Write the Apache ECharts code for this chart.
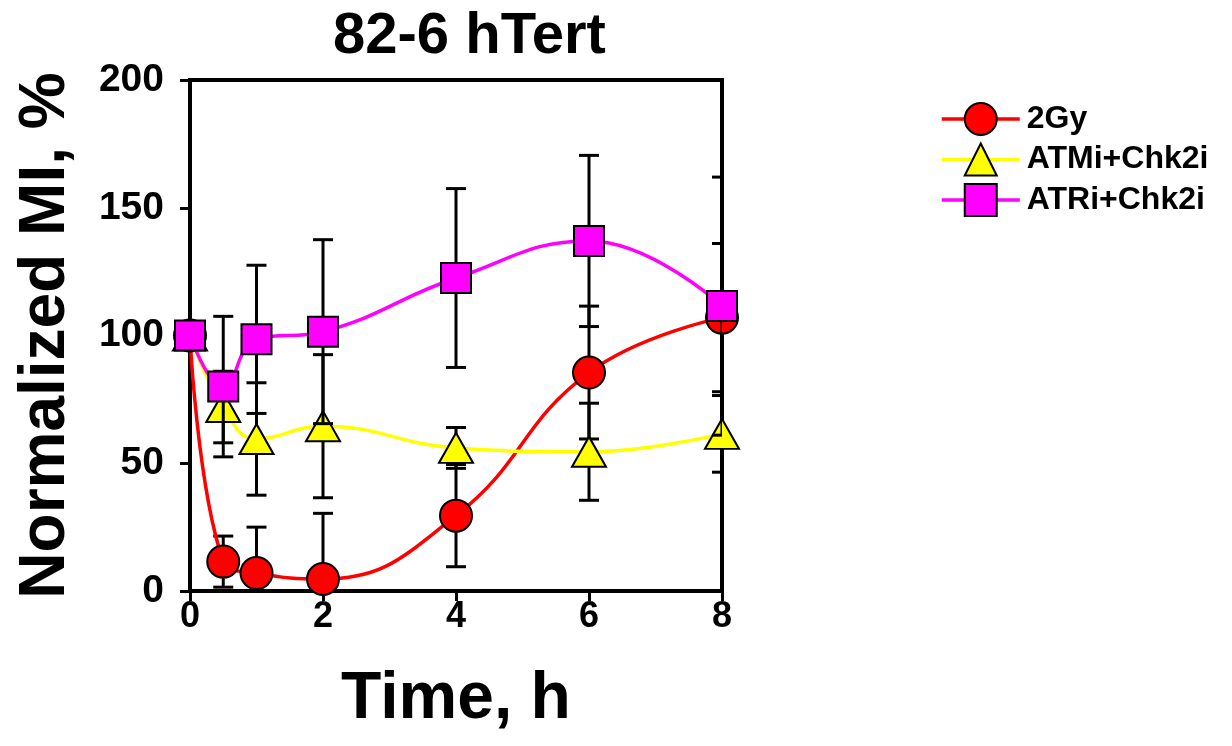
<!DOCTYPE html>
<html>
<head>
<meta charset="utf-8">
<script src="https://cdn.jsdelivr.net/npm/echarts@6/dist/echarts.min.js"></script>
<style>
html,body{margin:0;padding:0;background:#fff;}
#chart{width:1232px;height:746px;}
</style>
</head>
<body>
<div id="chart"></div>
<script>
const times = [0, 0.5, 1, 2, 4, 6, 8];
const seriesNames = ['2Gy', 'ATMi+Chk2i', 'ATRi+Chk2i'];
const gy2 = [100, 11.5, 7, 4.7, 29.5, 85.5, 107];
const gy2Err = [0, 10, 18, 25.7, 20, 26, 29];
const atmi = [100, 72, 59.5, 64.5, 56, 54.5, 61.5];
const atmiErr = [0, 14, 22, 28, 8, 19, 15];
const atri = [100, 80, 98.5, 101.5, 122.5, 137, 111.5];
const atriErr = [0, 27.5, 29, 36, 35, 33.5, 50.5];
const yTicks = [0, 50, 100, 150, 200];
const xTicks = [0, 2, 4, 6, 8];

const FONT = '"Liberation Sans", Arial, sans-serif';
const colors = ['#ff0000', '#ffff00', '#ff00ff'];
const symbols = ['circle', 'triangle', 'rect'];
const symbolSizes = [32, [34, 30], 30];
const values = [gy2, atmi, atri];
const errors = [gy2Err, atmiErr, atriErr];

function errRender(params, api) {
  const x = api.value(0), lo = api.value(1), hi = api.value(2);
  const top = api.coord([x, hi]);
  const bot = api.coord([x, Math.max(lo, 0)]);
  const half = 10;
  const style = {stroke: '#000', lineWidth: 3};
  const children = [
    {type: 'line', shape: {x1: top[0], y1: top[1], x2: bot[0], y2: bot[1]}, style: style},
    {type: 'line', shape: {x1: top[0] - half, y1: top[1], x2: top[0] + half, y2: top[1]}, style: style}
  ];
  if (lo >= 0) {
    children.push({type: 'line', shape: {x1: bot[0] - half, y1: bot[1], x2: bot[0] + half, y2: bot[1]}, style: style});
  }
  return {type: 'group', children: children};
}

const series = [];
for (let i = 0; i < 3; i++) {
  const errData = [];
  for (let j = 0; j < times.length; j++) {
    if (errors[i][j] > 0) errData.push([times[j], values[i][j] - errors[i][j], values[i][j] + errors[i][j]]);
  }
  series.push({
    type: 'custom',
    name: seriesNames[i] + ' err',
    renderItem: errRender,
    data: errData,
    z: 1 + i * 2,
    silent: true,
    clip: true,
    encode: {x: 0, y: [1, 2]}
  });
  series.push({
    type: 'line',
    name: seriesNames[i],
    data: times.map((t, j) => [t, values[i][j]]),
    smooth: 0.45,
    symbol: symbols[i],
    symbolSize: symbolSizes[i],
    z: 2 + i * 2,
    lineStyle: {color: colors[i], width: 3.5},
    itemStyle: {color: colors[i], borderColor: '#000', borderWidth: 2},
    emphasis: {disabled: true}
  });
}

const chart = echarts.init(document.getElementById('chart'), null, {renderer: 'canvas'});
chart.setOption({
  animation: false,
  backgroundColor: '#fff',
  title: {
    text: '82-6 hTert',
    left: 328, top: 3,
    textStyle: {fontFamily: FONT, fontWeight: 'bold', fontSize: 58, color: '#000'}
  },
  legend: {
    orient: 'vertical',
    left: 935, top: 97,
    itemWidth: 78, itemHeight: 40, itemGap: 6.5,
    data: seriesNames,
    lineStyle: {width: 3.5},
    itemStyle: {borderColor: '#000', borderWidth: 2},
    textStyle: {fontFamily: FONT, fontWeight: 'bold', fontSize: 32, color: '#000', padding: [0, 0, 0, 2]}
  },
  grid: {
    left: 190, right: 510, top: 80, bottom: 155,
    show: true, borderColor: '#000', borderWidth: 4, backgroundColor: 'transparent'
  },
  xAxis: {
    type: 'value', min: 0, max: 8, interval: 2,
    name: 'Time, h', nameLocation: 'middle', nameGap: 76,
    nameTextStyle: {fontFamily: FONT, fontWeight: 'bold', fontSize: 66, color: '#000'},
    axisLine: {lineStyle: {color: '#000', width: 4}},
    axisTick: {show: true, inside: false, length: 10, lineStyle: {color: '#000', width: 3}},
    axisLabel: {margin: 8, fontFamily: FONT, fontWeight: 'bold', fontSize: 36, color: '#000',
      formatter: v => xTicks.includes(v) ? String(v) : ''},
    splitLine: {show: false}
  },
  yAxis: {
    type: 'value', min: 0, max: 200, interval: 50,
    name: 'Normalized MI, %', nameLocation: 'middle', nameGap: 112,
    nameTextStyle: {fontFamily: FONT, fontWeight: 'bold', fontSize: 64, color: '#000'},
    axisLine: {lineStyle: {color: '#000', width: 4}},
    axisTick: {show: true, inside: false, length: 10, lineStyle: {color: '#000', width: 3}},
    axisLabel: {margin: 26, fontFamily: FONT, fontWeight: 'bold', fontSize: 39, color: '#000',
      formatter: v => yTicks.includes(v) ? String(v) : ''},
    splitLine: {show: false}
  },
  series: series
});
</script>
</body>
</html>
